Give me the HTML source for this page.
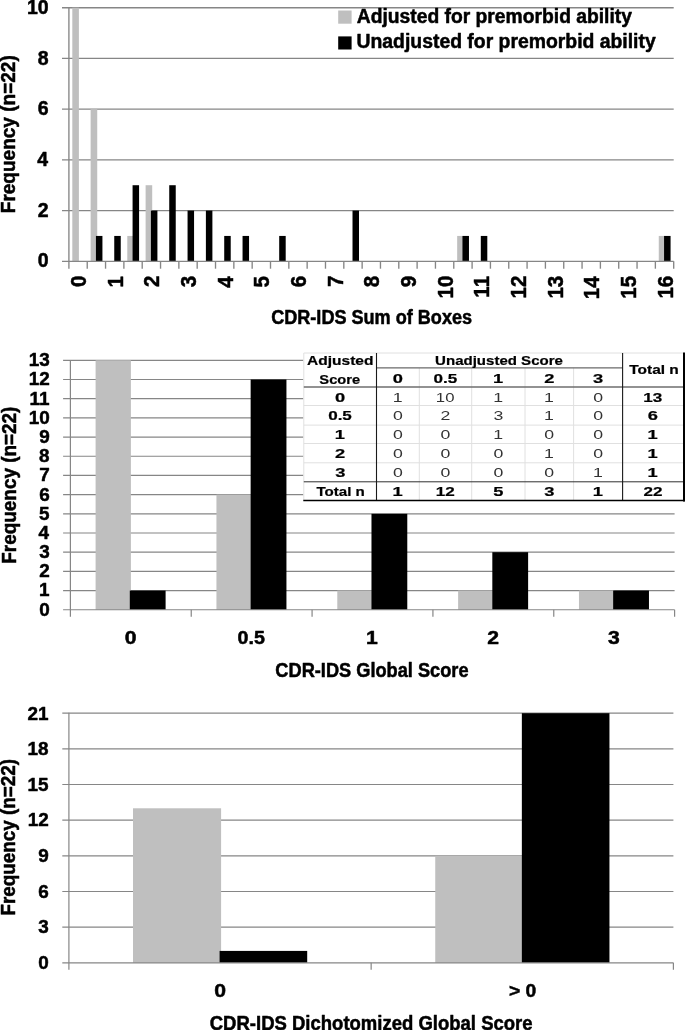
<!DOCTYPE html>
<html lang="en">
<head>
<meta charset="utf-8">
<title>CDR-IDS frequency charts</title>
<style>
html,body{margin:0;padding:0;background:#fff;}
body{width:685px;height:1030px;overflow:hidden;}
svg{display:block;}
svg text{font-family:"Liberation Sans",Arial,Helvetica,sans-serif;}
</style>
</head>
<body>
<svg width="685" height="1030" viewBox="0 0 685 1030">
<rect x="0" y="0" width="685" height="1030" fill="#fff"/>
<g id="chart1">
<line x1="62.00" y1="210.58" x2="673.70" y2="210.58" stroke="#868686" stroke-width="1.35"/>
<line x1="62.00" y1="159.86" x2="673.70" y2="159.86" stroke="#868686" stroke-width="1.35"/>
<line x1="62.00" y1="109.14" x2="673.70" y2="109.14" stroke="#868686" stroke-width="1.35"/>
<line x1="62.00" y1="58.42" x2="673.70" y2="58.42" stroke="#868686" stroke-width="1.35"/>
<line x1="62.00" y1="7.70" x2="673.70" y2="7.70" stroke="#868686" stroke-width="1.35"/>
<rect x="72.30" y="7.70" width="6.60" height="253.60" fill="#bfbfbf"/>
<rect x="90.63" y="109.14" width="6.60" height="152.16" fill="#bfbfbf"/>
<rect x="95.93" y="235.94" width="6.50" height="25.36" fill="#000"/>
<rect x="114.25" y="235.94" width="6.50" height="25.36" fill="#000"/>
<rect x="127.28" y="235.94" width="6.60" height="25.36" fill="#bfbfbf"/>
<rect x="132.58" y="185.22" width="6.50" height="76.08" fill="#000"/>
<rect x="145.61" y="185.22" width="6.60" height="76.08" fill="#bfbfbf"/>
<rect x="150.91" y="210.58" width="6.50" height="50.72" fill="#000"/>
<rect x="169.24" y="185.22" width="6.50" height="76.08" fill="#000"/>
<rect x="187.56" y="210.58" width="6.50" height="50.72" fill="#000"/>
<rect x="205.89" y="210.58" width="6.50" height="50.72" fill="#000"/>
<rect x="224.22" y="235.94" width="6.50" height="25.36" fill="#000"/>
<rect x="242.55" y="235.94" width="6.50" height="25.36" fill="#000"/>
<rect x="279.20" y="235.94" width="6.50" height="25.36" fill="#000"/>
<rect x="352.51" y="210.58" width="6.50" height="50.72" fill="#000"/>
<rect x="457.17" y="235.94" width="6.60" height="25.36" fill="#bfbfbf"/>
<rect x="462.47" y="235.94" width="6.50" height="25.36" fill="#000"/>
<rect x="480.80" y="235.94" width="6.50" height="25.36" fill="#000"/>
<rect x="658.77" y="235.94" width="6.60" height="25.36" fill="#bfbfbf"/>
<rect x="664.07" y="235.94" width="6.50" height="25.36" fill="#000"/>
<line x1="62.00" y1="261.30" x2="673.70" y2="261.30" stroke="#868686" stroke-width="1.35"/>
<line x1="68.90" y1="7.10" x2="68.90" y2="268.70" stroke="#868686" stroke-width="1.35"/>
<line x1="87.23" y1="261.30" x2="87.23" y2="268.70" stroke="#868686" stroke-width="1.35"/>
<line x1="105.55" y1="261.30" x2="105.55" y2="268.70" stroke="#868686" stroke-width="1.35"/>
<line x1="123.88" y1="261.30" x2="123.88" y2="268.70" stroke="#868686" stroke-width="1.35"/>
<line x1="142.21" y1="261.30" x2="142.21" y2="268.70" stroke="#868686" stroke-width="1.35"/>
<line x1="160.54" y1="261.30" x2="160.54" y2="268.70" stroke="#868686" stroke-width="1.35"/>
<line x1="178.86" y1="261.30" x2="178.86" y2="268.70" stroke="#868686" stroke-width="1.35"/>
<line x1="197.19" y1="261.30" x2="197.19" y2="268.70" stroke="#868686" stroke-width="1.35"/>
<line x1="215.52" y1="261.30" x2="215.52" y2="268.70" stroke="#868686" stroke-width="1.35"/>
<line x1="233.85" y1="261.30" x2="233.85" y2="268.70" stroke="#868686" stroke-width="1.35"/>
<line x1="252.17" y1="261.30" x2="252.17" y2="268.70" stroke="#868686" stroke-width="1.35"/>
<line x1="270.50" y1="261.30" x2="270.50" y2="268.70" stroke="#868686" stroke-width="1.35"/>
<line x1="288.83" y1="261.30" x2="288.83" y2="268.70" stroke="#868686" stroke-width="1.35"/>
<line x1="307.15" y1="261.30" x2="307.15" y2="268.70" stroke="#868686" stroke-width="1.35"/>
<line x1="325.48" y1="261.30" x2="325.48" y2="268.70" stroke="#868686" stroke-width="1.35"/>
<line x1="343.81" y1="261.30" x2="343.81" y2="268.70" stroke="#868686" stroke-width="1.35"/>
<line x1="362.14" y1="261.30" x2="362.14" y2="268.70" stroke="#868686" stroke-width="1.35"/>
<line x1="380.46" y1="261.30" x2="380.46" y2="268.70" stroke="#868686" stroke-width="1.35"/>
<line x1="398.79" y1="261.30" x2="398.79" y2="268.70" stroke="#868686" stroke-width="1.35"/>
<line x1="417.12" y1="261.30" x2="417.12" y2="268.70" stroke="#868686" stroke-width="1.35"/>
<line x1="435.45" y1="261.30" x2="435.45" y2="268.70" stroke="#868686" stroke-width="1.35"/>
<line x1="453.77" y1="261.30" x2="453.77" y2="268.70" stroke="#868686" stroke-width="1.35"/>
<line x1="472.10" y1="261.30" x2="472.10" y2="268.70" stroke="#868686" stroke-width="1.35"/>
<line x1="490.43" y1="261.30" x2="490.43" y2="268.70" stroke="#868686" stroke-width="1.35"/>
<line x1="508.75" y1="261.30" x2="508.75" y2="268.70" stroke="#868686" stroke-width="1.35"/>
<line x1="527.08" y1="261.30" x2="527.08" y2="268.70" stroke="#868686" stroke-width="1.35"/>
<line x1="545.41" y1="261.30" x2="545.41" y2="268.70" stroke="#868686" stroke-width="1.35"/>
<line x1="563.74" y1="261.30" x2="563.74" y2="268.70" stroke="#868686" stroke-width="1.35"/>
<line x1="582.06" y1="261.30" x2="582.06" y2="268.70" stroke="#868686" stroke-width="1.35"/>
<line x1="600.39" y1="261.30" x2="600.39" y2="268.70" stroke="#868686" stroke-width="1.35"/>
<line x1="618.72" y1="261.30" x2="618.72" y2="268.70" stroke="#868686" stroke-width="1.35"/>
<line x1="637.05" y1="261.30" x2="637.05" y2="268.70" stroke="#868686" stroke-width="1.35"/>
<line x1="655.37" y1="261.30" x2="655.37" y2="268.70" stroke="#868686" stroke-width="1.35"/>
<line x1="673.70" y1="261.30" x2="673.70" y2="268.70" stroke="#868686" stroke-width="1.35"/>
<text x="37.86" y="267.40" font-size="19.5" font-weight="bold" fill="#000" stroke="#000" stroke-width="0.5" stroke-linejoin="round" textLength="10.85" lengthAdjust="spacingAndGlyphs">0</text>
<text x="37.86" y="216.68" font-size="19.5" font-weight="bold" fill="#000" stroke="#000" stroke-width="0.5" stroke-linejoin="round" textLength="10.85" lengthAdjust="spacingAndGlyphs">2</text>
<text x="37.18" y="165.96" font-size="19.5" font-weight="bold" fill="#000" stroke="#000" stroke-width="0.5" stroke-linejoin="round" textLength="10.85" lengthAdjust="spacingAndGlyphs">4</text>
<text x="37.76" y="115.24" font-size="19.5" font-weight="bold" fill="#000" stroke="#000" stroke-width="0.5" stroke-linejoin="round" textLength="10.85" lengthAdjust="spacingAndGlyphs">6</text>
<text x="37.66" y="64.52" font-size="19.5" font-weight="bold" fill="#000" stroke="#000" stroke-width="0.5" stroke-linejoin="round" textLength="10.85" lengthAdjust="spacingAndGlyphs">8</text>
<text x="27.03" y="13.80" font-size="19.5" font-weight="bold" fill="#000" stroke="#000" stroke-width="0.5" stroke-linejoin="round" textLength="21.69" lengthAdjust="spacingAndGlyphs">10</text>
<text transform="translate(86.06,286.27) rotate(-90)" x="-0.82" y="0" font-size="21.2" font-weight="bold" stroke="#000" stroke-width="0.5" stroke-linejoin="round" textLength="11.44" lengthAdjust="spacingAndGlyphs">0</text>
<text transform="translate(122.72,286.17) rotate(-90)" x="-1.23" y="0" font-size="21.2" font-weight="bold" stroke="#000" stroke-width="0.5" stroke-linejoin="round" textLength="11.44" lengthAdjust="spacingAndGlyphs">1</text>
<text transform="translate(159.37,286.37) rotate(-90)" x="-0.72" y="0" font-size="21.2" font-weight="bold" stroke="#000" stroke-width="0.5" stroke-linejoin="round" textLength="11.44" lengthAdjust="spacingAndGlyphs">2</text>
<text transform="translate(196.03,286.68) rotate(-90)" x="-0.51" y="0" font-size="21.2" font-weight="bold" stroke="#000" stroke-width="0.5" stroke-linejoin="round" textLength="11.44" lengthAdjust="spacingAndGlyphs">3</text>
<text transform="translate(232.68,287.50) rotate(-90)" x="-0.31" y="0" font-size="21.2" font-weight="bold" stroke="#000" stroke-width="0.5" stroke-linejoin="round" textLength="11.44" lengthAdjust="spacingAndGlyphs">4</text>
<text transform="translate(269.34,286.78) rotate(-90)" x="-0.62" y="0" font-size="21.2" font-weight="bold" stroke="#000" stroke-width="0.5" stroke-linejoin="round" textLength="11.44" lengthAdjust="spacingAndGlyphs">5</text>
<text transform="translate(305.99,286.47) rotate(-90)" x="-0.72" y="0" font-size="21.2" font-weight="bold" stroke="#000" stroke-width="0.5" stroke-linejoin="round" textLength="11.44" lengthAdjust="spacingAndGlyphs">6</text>
<text transform="translate(342.65,286.27) rotate(-90)" x="-0.82" y="0" font-size="21.2" font-weight="bold" stroke="#000" stroke-width="0.5" stroke-linejoin="round" textLength="11.44" lengthAdjust="spacingAndGlyphs">7</text>
<text transform="translate(379.30,286.68) rotate(-90)" x="-0.62" y="0" font-size="21.2" font-weight="bold" stroke="#000" stroke-width="0.5" stroke-linejoin="round" textLength="11.44" lengthAdjust="spacingAndGlyphs">8</text>
<text transform="translate(415.95,286.47) rotate(-90)" x="-0.72" y="0" font-size="21.2" font-weight="bold" stroke="#000" stroke-width="0.5" stroke-linejoin="round" textLength="11.44" lengthAdjust="spacingAndGlyphs">9</text>
<text transform="translate(452.61,297.27) rotate(-90)" x="-1.23" y="0" font-size="21.2" font-weight="bold" stroke="#000" stroke-width="0.5" stroke-linejoin="round" textLength="22.87" lengthAdjust="spacingAndGlyphs">10</text>
<text transform="translate(489.26,296.45) rotate(-90)" x="-1.23" y="0" font-size="21.2" font-weight="bold" stroke="#000" stroke-width="0.5" stroke-linejoin="round" textLength="21.74" lengthAdjust="spacingAndGlyphs">11</text>
<text transform="translate(525.92,297.27) rotate(-90)" x="-1.23" y="0" font-size="21.2" font-weight="bold" stroke="#000" stroke-width="0.5" stroke-linejoin="round" textLength="22.87" lengthAdjust="spacingAndGlyphs">12</text>
<text transform="translate(562.57,297.37) rotate(-90)" x="-1.23" y="0" font-size="21.2" font-weight="bold" stroke="#000" stroke-width="0.5" stroke-linejoin="round" textLength="22.87" lengthAdjust="spacingAndGlyphs">13</text>
<text transform="translate(599.23,297.99) rotate(-90)" x="-1.23" y="0" font-size="21.2" font-weight="bold" stroke="#000" stroke-width="0.5" stroke-linejoin="round" textLength="22.87" lengthAdjust="spacingAndGlyphs">14</text>
<text transform="translate(635.88,297.58) rotate(-90)" x="-1.23" y="0" font-size="21.2" font-weight="bold" stroke="#000" stroke-width="0.5" stroke-linejoin="round" textLength="22.87" lengthAdjust="spacingAndGlyphs">15</text>
<text transform="translate(672.54,297.37) rotate(-90)" x="-1.23" y="0" font-size="21.2" font-weight="bold" stroke="#000" stroke-width="0.5" stroke-linejoin="round" textLength="22.87" lengthAdjust="spacingAndGlyphs">16</text>
<text transform="translate(15.10,212.00) rotate(-90)" x="-1.24" y="0" font-size="19.4" font-weight="bold" stroke="#000" stroke-width="0.5" stroke-linejoin="round" textLength="157.96" lengthAdjust="spacingAndGlyphs">Frequency (n=22)</text>
<text x="271.18" y="323.90" font-size="19.4" font-weight="bold" fill="#000" stroke="#000" stroke-width="0.5" stroke-linejoin="round" textLength="200.89" lengthAdjust="spacingAndGlyphs">CDR-IDS Sum of Boxes</text>
<rect x="338.20" y="10.50" width="13.40" height="13.20" fill="#bfbfbf"/>
<rect x="338.20" y="36.40" width="13.40" height="13.10" fill="#000"/>
<text x="356.72" y="22.80" font-size="19.4" font-weight="bold" fill="#000" stroke="#000" stroke-width="0.5" stroke-linejoin="round" textLength="275.26" lengthAdjust="spacingAndGlyphs">Adjusted for premorbid ability</text>
<text x="356.54" y="47.80" font-size="19.4" font-weight="bold" fill="#000" stroke="#000" stroke-width="0.5" stroke-linejoin="round" textLength="299.18" lengthAdjust="spacingAndGlyphs">Unadjusted for premorbid ability</text>
</g>
<g id="chart2">
<line x1="63.10" y1="590.56" x2="674.60" y2="590.56" stroke="#868686" stroke-width="1.2"/>
<line x1="63.10" y1="571.37" x2="674.60" y2="571.37" stroke="#868686" stroke-width="1.2"/>
<line x1="63.10" y1="552.18" x2="674.60" y2="552.18" stroke="#868686" stroke-width="1.2"/>
<line x1="63.10" y1="533.00" x2="674.60" y2="533.00" stroke="#868686" stroke-width="1.2"/>
<line x1="63.10" y1="513.81" x2="674.60" y2="513.81" stroke="#868686" stroke-width="1.2"/>
<line x1="63.10" y1="494.62" x2="674.60" y2="494.62" stroke="#868686" stroke-width="1.2"/>
<line x1="63.10" y1="475.43" x2="674.60" y2="475.43" stroke="#868686" stroke-width="1.2"/>
<line x1="63.10" y1="456.24" x2="674.60" y2="456.24" stroke="#868686" stroke-width="1.2"/>
<line x1="63.10" y1="437.05" x2="674.60" y2="437.05" stroke="#868686" stroke-width="1.2"/>
<line x1="63.10" y1="417.87" x2="674.60" y2="417.87" stroke="#868686" stroke-width="1.2"/>
<line x1="63.10" y1="398.68" x2="674.60" y2="398.68" stroke="#868686" stroke-width="1.2"/>
<line x1="63.10" y1="379.49" x2="674.60" y2="379.49" stroke="#868686" stroke-width="1.2"/>
<line x1="63.10" y1="360.30" x2="674.60" y2="360.30" stroke="#868686" stroke-width="1.2"/>
<rect x="95.60" y="360.30" width="35.30" height="249.45" fill="#bfbfbf"/>
<rect x="129.80" y="590.56" width="35.80" height="19.19" fill="#000"/>
<rect x="216.44" y="494.62" width="35.30" height="115.13" fill="#bfbfbf"/>
<rect x="250.64" y="379.49" width="35.80" height="230.26" fill="#000"/>
<rect x="337.28" y="590.56" width="35.30" height="19.19" fill="#bfbfbf"/>
<rect x="371.48" y="513.81" width="35.80" height="95.94" fill="#000"/>
<rect x="458.12" y="590.56" width="35.30" height="19.19" fill="#bfbfbf"/>
<rect x="492.32" y="552.18" width="35.80" height="57.57" fill="#000"/>
<rect x="578.96" y="590.56" width="35.30" height="19.19" fill="#bfbfbf"/>
<rect x="613.16" y="590.56" width="35.80" height="19.19" fill="#000"/>
<line x1="63.10" y1="609.75" x2="674.60" y2="609.75" stroke="#868686" stroke-width="1.2"/>
<line x1="70.40" y1="359.90" x2="70.40" y2="616.65" stroke="#868686" stroke-width="1.2"/>
<line x1="191.24" y1="609.75" x2="191.24" y2="616.65" stroke="#868686" stroke-width="1.2"/>
<line x1="312.08" y1="609.75" x2="312.08" y2="616.65" stroke="#868686" stroke-width="1.2"/>
<line x1="432.92" y1="609.75" x2="432.92" y2="616.65" stroke="#868686" stroke-width="1.2"/>
<line x1="553.76" y1="609.75" x2="553.76" y2="616.65" stroke="#868686" stroke-width="1.2"/>
<line x1="674.60" y1="609.75" x2="674.60" y2="616.65" stroke="#868686" stroke-width="1.2"/>
<text x="39.27" y="615.65" font-size="18.9" font-weight="bold" fill="#000" stroke="#000" stroke-width="0.5" stroke-linejoin="round" textLength="10.51" lengthAdjust="spacingAndGlyphs">0</text>
<text x="38.98" y="596.46" font-size="18.9" font-weight="bold" fill="#000" stroke="#000" stroke-width="0.5" stroke-linejoin="round" textLength="10.51" lengthAdjust="spacingAndGlyphs">1</text>
<text x="39.27" y="577.27" font-size="18.9" font-weight="bold" fill="#000" stroke="#000" stroke-width="0.5" stroke-linejoin="round" textLength="10.51" lengthAdjust="spacingAndGlyphs">2</text>
<text x="39.17" y="558.08" font-size="18.9" font-weight="bold" fill="#000" stroke="#000" stroke-width="0.5" stroke-linejoin="round" textLength="10.51" lengthAdjust="spacingAndGlyphs">3</text>
<text x="38.61" y="538.90" font-size="18.9" font-weight="bold" fill="#000" stroke="#000" stroke-width="0.5" stroke-linejoin="round" textLength="10.51" lengthAdjust="spacingAndGlyphs">4</text>
<text x="38.98" y="519.71" font-size="18.9" font-weight="bold" fill="#000" stroke="#000" stroke-width="0.5" stroke-linejoin="round" textLength="10.51" lengthAdjust="spacingAndGlyphs">5</text>
<text x="39.17" y="500.52" font-size="18.9" font-weight="bold" fill="#000" stroke="#000" stroke-width="0.5" stroke-linejoin="round" textLength="10.51" lengthAdjust="spacingAndGlyphs">6</text>
<text x="39.27" y="481.33" font-size="18.9" font-weight="bold" fill="#000" stroke="#000" stroke-width="0.5" stroke-linejoin="round" textLength="10.51" lengthAdjust="spacingAndGlyphs">7</text>
<text x="39.08" y="462.14" font-size="18.9" font-weight="bold" fill="#000" stroke="#000" stroke-width="0.5" stroke-linejoin="round" textLength="10.51" lengthAdjust="spacingAndGlyphs">8</text>
<text x="39.17" y="442.95" font-size="18.9" font-weight="bold" fill="#000" stroke="#000" stroke-width="0.5" stroke-linejoin="round" textLength="10.51" lengthAdjust="spacingAndGlyphs">9</text>
<text x="28.78" y="423.77" font-size="18.9" font-weight="bold" fill="#000" stroke="#000" stroke-width="0.5" stroke-linejoin="round" textLength="21.02" lengthAdjust="spacingAndGlyphs">10</text>
<text x="29.53" y="404.58" font-size="18.9" font-weight="bold" fill="#000" stroke="#000" stroke-width="0.5" stroke-linejoin="round" textLength="19.98" lengthAdjust="spacingAndGlyphs">11</text>
<text x="28.78" y="385.39" font-size="18.9" font-weight="bold" fill="#000" stroke="#000" stroke-width="0.5" stroke-linejoin="round" textLength="21.02" lengthAdjust="spacingAndGlyphs">12</text>
<text x="28.68" y="366.20" font-size="18.9" font-weight="bold" fill="#000" stroke="#000" stroke-width="0.5" stroke-linejoin="round" textLength="21.02" lengthAdjust="spacingAndGlyphs">13</text>
<text x="124.65" y="644.00" font-size="18.9" font-weight="bold" fill="#000" stroke="#000" stroke-width="0.5" stroke-linejoin="round" textLength="11.77" lengthAdjust="spacingAndGlyphs">0</text>
<text x="237.55" y="644.00" font-size="18.9" font-weight="bold" fill="#000" stroke="#000" stroke-width="0.5" stroke-linejoin="round" textLength="27.32" lengthAdjust="spacingAndGlyphs">0.5</text>
<text x="365.96" y="644.00" font-size="18.9" font-weight="bold" fill="#000" stroke="#000" stroke-width="0.5" stroke-linejoin="round" textLength="11.77" lengthAdjust="spacingAndGlyphs">1</text>
<text x="487.22" y="644.00" font-size="18.9" font-weight="bold" fill="#000" stroke="#000" stroke-width="0.5" stroke-linejoin="round" textLength="11.77" lengthAdjust="spacingAndGlyphs">2</text>
<text x="608.11" y="644.00" font-size="18.9" font-weight="bold" fill="#000" stroke="#000" stroke-width="0.5" stroke-linejoin="round" textLength="11.77" lengthAdjust="spacingAndGlyphs">3</text>
<text transform="translate(16.00,562.50) rotate(-90)" x="-1.23" y="0" font-size="19.4" font-weight="bold" stroke="#000" stroke-width="0.5" stroke-linejoin="round" textLength="157.14" lengthAdjust="spacingAndGlyphs">Frequency (n=22)</text>
<text x="275.37" y="676.90" font-size="19.4" font-weight="bold" fill="#000" stroke="#000" stroke-width="0.5" stroke-linejoin="round" textLength="193.23" lengthAdjust="spacingAndGlyphs">CDR-IDS Global Score</text>
</g>
<g id="table">
<rect x="303.30" y="352.50" width="381.70" height="149.10" fill="#fff"/>
<line x1="303.80" y1="405.50" x2="683.20" y2="405.50" stroke="#e0e0e0" stroke-width="1"/>
<line x1="303.80" y1="425.10" x2="683.20" y2="425.10" stroke="#e0e0e0" stroke-width="1"/>
<line x1="303.80" y1="443.50" x2="683.20" y2="443.50" stroke="#e0e0e0" stroke-width="1"/>
<line x1="303.80" y1="462.80" x2="683.20" y2="462.80" stroke="#e0e0e0" stroke-width="1"/>
<line x1="419.30" y1="367.90" x2="419.30" y2="500.60" stroke="#e0e0e0" stroke-width="1"/>
<line x1="471.70" y1="367.90" x2="471.70" y2="500.60" stroke="#e0e0e0" stroke-width="1"/>
<line x1="525.00" y1="367.90" x2="525.00" y2="500.60" stroke="#e0e0e0" stroke-width="1"/>
<line x1="573.60" y1="367.90" x2="573.60" y2="500.60" stroke="#e0e0e0" stroke-width="1"/>
<line x1="303.80" y1="353.00" x2="683.20" y2="353.00" stroke="#e0e0e0" stroke-width="1"/>
<line x1="303.80" y1="353.00" x2="303.80" y2="500.60" stroke="#e0e0e0" stroke-width="1"/>
<line x1="376.50" y1="367.90" x2="622.60" y2="367.90" stroke="#6a6a6a" stroke-width="1.1"/>
<line x1="303.80" y1="387.00" x2="683.20" y2="387.00" stroke="#6e6e6e" stroke-width="1.4"/>
<line x1="303.80" y1="481.80" x2="683.20" y2="481.80" stroke="#303030" stroke-width="1.0"/>
<line x1="376.50" y1="353.00" x2="376.50" y2="500.60" stroke="#1a1a1a" stroke-width="1.1"/>
<line x1="622.60" y1="353.00" x2="622.60" y2="500.60" stroke="#1a1a1a" stroke-width="1.1"/>
<line x1="303.30" y1="500.60" x2="685.00" y2="500.60" stroke="#000" stroke-width="1.5"/>
<line x1="684.00" y1="352.50" x2="684.00" y2="501.45" stroke="#000" stroke-width="2.0"/>
<text x="307.01" y="364.70" font-size="12.2" font-weight="bold" fill="#000" stroke="#000" stroke-width="0.2" stroke-linejoin="round" textLength="66.44" lengthAdjust="spacingAndGlyphs">Adjusted</text>
<text x="319.36" y="384.00" font-size="12.2" font-weight="bold" fill="#000" stroke="#000" stroke-width="0.2" stroke-linejoin="round" textLength="40.77" lengthAdjust="spacingAndGlyphs">Score</text>
<text x="435.10" y="364.90" font-size="12.2" font-weight="bold" fill="#000" stroke="#000" stroke-width="0.2" stroke-linejoin="round" textLength="127.79" lengthAdjust="spacingAndGlyphs">Unadjusted Score</text>
<text x="629.25" y="374.20" font-size="12.2" font-weight="bold" fill="#000" stroke="#000" stroke-width="0.2" stroke-linejoin="round" textLength="49.53" lengthAdjust="spacingAndGlyphs">Total n</text>
<text x="392.82" y="383.20" font-size="12.2" font-weight="bold" fill="#000" stroke="#000" stroke-width="0.2" stroke-linejoin="round" textLength="10.18" lengthAdjust="spacingAndGlyphs">0</text>
<text x="433.50" y="383.20" font-size="12.2" font-weight="bold" fill="#000" stroke="#000" stroke-width="0.2" stroke-linejoin="round" textLength="23.74" lengthAdjust="spacingAndGlyphs">0.5</text>
<text x="492.95" y="383.20" font-size="12.2" font-weight="bold" fill="#000" stroke="#000" stroke-width="0.2" stroke-linejoin="round" textLength="10.18" lengthAdjust="spacingAndGlyphs">1</text>
<text x="544.27" y="383.20" font-size="12.2" font-weight="bold" fill="#000" stroke="#000" stroke-width="0.2" stroke-linejoin="round" textLength="10.18" lengthAdjust="spacingAndGlyphs">2</text>
<text x="593.11" y="383.20" font-size="12.2" font-weight="bold" fill="#000" stroke="#000" stroke-width="0.2" stroke-linejoin="round" textLength="10.18" lengthAdjust="spacingAndGlyphs">3</text>
<text x="335.07" y="401.60" font-size="12.2" font-weight="bold" fill="#000" stroke="#000" stroke-width="0.2" stroke-linejoin="round" textLength="10.18" lengthAdjust="spacingAndGlyphs">0</text>
<text x="392.73" y="401.60" font-size="12.2" font-weight="normal" fill="#333" textLength="9.84" lengthAdjust="spacingAndGlyphs">1</text>
<text x="435.89" y="401.60" font-size="12.2" font-weight="normal" fill="#333" textLength="18.59" lengthAdjust="spacingAndGlyphs">10</text>
<text x="493.18" y="401.60" font-size="12.2" font-weight="normal" fill="#333" textLength="9.84" lengthAdjust="spacingAndGlyphs">1</text>
<text x="544.13" y="401.60" font-size="12.2" font-weight="normal" fill="#333" textLength="9.84" lengthAdjust="spacingAndGlyphs">1</text>
<text x="593.15" y="401.60" font-size="12.2" font-weight="normal" fill="#333" textLength="9.84" lengthAdjust="spacingAndGlyphs">0</text>
<text x="643.21" y="401.60" font-size="12.2" font-weight="bold" fill="#000" stroke="#000" stroke-width="0.2" stroke-linejoin="round" textLength="19.00" lengthAdjust="spacingAndGlyphs">13</text>
<text x="328.15" y="420.20" font-size="12.2" font-weight="bold" fill="#000" stroke="#000" stroke-width="0.2" stroke-linejoin="round" textLength="23.74" lengthAdjust="spacingAndGlyphs">0.5</text>
<text x="392.95" y="420.20" font-size="12.2" font-weight="normal" fill="#333" textLength="9.84" lengthAdjust="spacingAndGlyphs">0</text>
<text x="440.59" y="420.20" font-size="12.2" font-weight="normal" fill="#333" textLength="9.84" lengthAdjust="spacingAndGlyphs">2</text>
<text x="493.44" y="420.20" font-size="12.2" font-weight="normal" fill="#333" textLength="9.84" lengthAdjust="spacingAndGlyphs">3</text>
<text x="544.13" y="420.20" font-size="12.2" font-weight="normal" fill="#333" textLength="9.84" lengthAdjust="spacingAndGlyphs">1</text>
<text x="593.15" y="420.20" font-size="12.2" font-weight="normal" fill="#333" textLength="9.84" lengthAdjust="spacingAndGlyphs">0</text>
<text x="647.82" y="420.20" font-size="12.2" font-weight="bold" fill="#000" stroke="#000" stroke-width="0.2" stroke-linejoin="round" textLength="10.18" lengthAdjust="spacingAndGlyphs">6</text>
<text x="334.75" y="439.40" font-size="12.2" font-weight="bold" fill="#000" stroke="#000" stroke-width="0.2" stroke-linejoin="round" textLength="10.18" lengthAdjust="spacingAndGlyphs">1</text>
<text x="392.95" y="439.40" font-size="12.2" font-weight="normal" fill="#333" textLength="9.84" lengthAdjust="spacingAndGlyphs">0</text>
<text x="440.55" y="439.40" font-size="12.2" font-weight="normal" fill="#333" textLength="9.84" lengthAdjust="spacingAndGlyphs">0</text>
<text x="493.18" y="439.40" font-size="12.2" font-weight="normal" fill="#333" textLength="9.84" lengthAdjust="spacingAndGlyphs">1</text>
<text x="544.35" y="439.40" font-size="12.2" font-weight="normal" fill="#333" textLength="9.84" lengthAdjust="spacingAndGlyphs">0</text>
<text x="593.15" y="439.40" font-size="12.2" font-weight="normal" fill="#333" textLength="9.84" lengthAdjust="spacingAndGlyphs">0</text>
<text x="647.50" y="439.40" font-size="12.2" font-weight="bold" fill="#000" stroke="#000" stroke-width="0.2" stroke-linejoin="round" textLength="10.18" lengthAdjust="spacingAndGlyphs">1</text>
<text x="335.12" y="458.30" font-size="12.2" font-weight="bold" fill="#000" stroke="#000" stroke-width="0.2" stroke-linejoin="round" textLength="10.18" lengthAdjust="spacingAndGlyphs">2</text>
<text x="392.95" y="458.30" font-size="12.2" font-weight="normal" fill="#333" textLength="9.84" lengthAdjust="spacingAndGlyphs">0</text>
<text x="440.55" y="458.30" font-size="12.2" font-weight="normal" fill="#333" textLength="9.84" lengthAdjust="spacingAndGlyphs">0</text>
<text x="493.40" y="458.30" font-size="12.2" font-weight="normal" fill="#333" textLength="9.84" lengthAdjust="spacingAndGlyphs">0</text>
<text x="544.13" y="458.30" font-size="12.2" font-weight="normal" fill="#333" textLength="9.84" lengthAdjust="spacingAndGlyphs">1</text>
<text x="593.15" y="458.30" font-size="12.2" font-weight="normal" fill="#333" textLength="9.84" lengthAdjust="spacingAndGlyphs">0</text>
<text x="647.50" y="458.30" font-size="12.2" font-weight="bold" fill="#000" stroke="#000" stroke-width="0.2" stroke-linejoin="round" textLength="10.18" lengthAdjust="spacingAndGlyphs">1</text>
<text x="335.16" y="477.00" font-size="12.2" font-weight="bold" fill="#000" stroke="#000" stroke-width="0.2" stroke-linejoin="round" textLength="10.18" lengthAdjust="spacingAndGlyphs">3</text>
<text x="392.95" y="477.00" font-size="12.2" font-weight="normal" fill="#333" textLength="9.84" lengthAdjust="spacingAndGlyphs">0</text>
<text x="440.55" y="477.00" font-size="12.2" font-weight="normal" fill="#333" textLength="9.84" lengthAdjust="spacingAndGlyphs">0</text>
<text x="493.40" y="477.00" font-size="12.2" font-weight="normal" fill="#333" textLength="9.84" lengthAdjust="spacingAndGlyphs">0</text>
<text x="544.35" y="477.00" font-size="12.2" font-weight="normal" fill="#333" textLength="9.84" lengthAdjust="spacingAndGlyphs">0</text>
<text x="592.93" y="477.00" font-size="12.2" font-weight="normal" fill="#333" textLength="9.84" lengthAdjust="spacingAndGlyphs">1</text>
<text x="647.50" y="477.00" font-size="12.2" font-weight="bold" fill="#000" stroke="#000" stroke-width="0.2" stroke-linejoin="round" textLength="10.18" lengthAdjust="spacingAndGlyphs">1</text>
<text x="316.45" y="496.30" font-size="12.2" font-weight="bold" fill="#000" stroke="#000" stroke-width="0.2" stroke-linejoin="round" textLength="48.41" lengthAdjust="spacingAndGlyphs">Total n</text>
<text x="392.50" y="496.30" font-size="12.2" font-weight="bold" fill="#000" stroke="#000" stroke-width="0.2" stroke-linejoin="round" textLength="10.18" lengthAdjust="spacingAndGlyphs">1</text>
<text x="435.85" y="496.30" font-size="12.2" font-weight="bold" fill="#000" stroke="#000" stroke-width="0.2" stroke-linejoin="round" textLength="19.00" lengthAdjust="spacingAndGlyphs">12</text>
<text x="493.23" y="496.30" font-size="12.2" font-weight="bold" fill="#000" stroke="#000" stroke-width="0.2" stroke-linejoin="round" textLength="10.18" lengthAdjust="spacingAndGlyphs">5</text>
<text x="544.31" y="496.30" font-size="12.2" font-weight="bold" fill="#000" stroke="#000" stroke-width="0.2" stroke-linejoin="round" textLength="10.18" lengthAdjust="spacingAndGlyphs">3</text>
<text x="592.70" y="496.30" font-size="12.2" font-weight="bold" fill="#000" stroke="#000" stroke-width="0.2" stroke-linejoin="round" textLength="10.18" lengthAdjust="spacingAndGlyphs">1</text>
<text x="643.46" y="496.30" font-size="12.2" font-weight="bold" fill="#000" stroke="#000" stroke-width="0.2" stroke-linejoin="round" textLength="19.00" lengthAdjust="spacingAndGlyphs">22</text>
</g>
<g id="chart3">
<line x1="62.30" y1="927.14" x2="673.40" y2="927.14" stroke="#868686" stroke-width="1.2"/>
<line x1="62.30" y1="891.49" x2="673.40" y2="891.49" stroke="#868686" stroke-width="1.2"/>
<line x1="62.30" y1="855.83" x2="673.40" y2="855.83" stroke="#868686" stroke-width="1.2"/>
<line x1="62.30" y1="820.17" x2="673.40" y2="820.17" stroke="#868686" stroke-width="1.2"/>
<line x1="62.30" y1="784.51" x2="673.40" y2="784.51" stroke="#868686" stroke-width="1.2"/>
<line x1="62.30" y1="748.86" x2="673.40" y2="748.86" stroke="#868686" stroke-width="1.2"/>
<line x1="62.30" y1="713.20" x2="673.40" y2="713.20" stroke="#868686" stroke-width="1.2"/>
<rect x="133.00" y="808.29" width="88.10" height="154.51" fill="#bfbfbf"/>
<rect x="219.60" y="950.91" width="87.60" height="11.89" fill="#000"/>
<rect x="435.25" y="855.83" width="88.10" height="106.97" fill="#bfbfbf"/>
<rect x="521.85" y="713.20" width="87.60" height="249.60" fill="#000"/>
<line x1="62.30" y1="962.80" x2="673.40" y2="962.80" stroke="#868686" stroke-width="1.2"/>
<line x1="68.90" y1="712.80" x2="68.90" y2="969.70" stroke="#868686" stroke-width="1.2"/>
<line x1="371.15" y1="962.80" x2="371.15" y2="969.70" stroke="#868686" stroke-width="1.2"/>
<line x1="673.40" y1="962.80" x2="673.40" y2="969.70" stroke="#868686" stroke-width="1.2"/>
<text x="38.27" y="969.10" font-size="18.9" font-weight="bold" fill="#000" stroke="#000" stroke-width="0.5" stroke-linejoin="round" textLength="10.51" lengthAdjust="spacingAndGlyphs">0</text>
<text x="38.17" y="933.44" font-size="18.9" font-weight="bold" fill="#000" stroke="#000" stroke-width="0.5" stroke-linejoin="round" textLength="10.51" lengthAdjust="spacingAndGlyphs">3</text>
<text x="38.17" y="897.79" font-size="18.9" font-weight="bold" fill="#000" stroke="#000" stroke-width="0.5" stroke-linejoin="round" textLength="10.51" lengthAdjust="spacingAndGlyphs">6</text>
<text x="38.17" y="862.13" font-size="18.9" font-weight="bold" fill="#000" stroke="#000" stroke-width="0.5" stroke-linejoin="round" textLength="10.51" lengthAdjust="spacingAndGlyphs">9</text>
<text x="27.78" y="826.47" font-size="18.9" font-weight="bold" fill="#000" stroke="#000" stroke-width="0.5" stroke-linejoin="round" textLength="21.02" lengthAdjust="spacingAndGlyphs">12</text>
<text x="27.49" y="790.81" font-size="18.9" font-weight="bold" fill="#000" stroke="#000" stroke-width="0.5" stroke-linejoin="round" textLength="21.02" lengthAdjust="spacingAndGlyphs">15</text>
<text x="27.59" y="755.16" font-size="18.9" font-weight="bold" fill="#000" stroke="#000" stroke-width="0.5" stroke-linejoin="round" textLength="21.02" lengthAdjust="spacingAndGlyphs">18</text>
<text x="27.49" y="719.50" font-size="18.9" font-weight="bold" fill="#000" stroke="#000" stroke-width="0.5" stroke-linejoin="round" textLength="21.02" lengthAdjust="spacingAndGlyphs">21</text>
<text x="214.28" y="997.40" font-size="18.9" font-weight="bold" fill="#000" stroke="#000" stroke-width="0.5" stroke-linejoin="round" textLength="11.77" lengthAdjust="spacingAndGlyphs">0</text>
<text x="508.93" y="997.40" font-size="18.9" font-weight="bold" fill="#000" stroke="#000" stroke-width="0.5" stroke-linejoin="round" textLength="27.40" lengthAdjust="spacingAndGlyphs">&gt; 0</text>
<text transform="translate(15.10,914.40) rotate(-90)" x="-1.23" y="0" font-size="19.4" font-weight="bold" stroke="#000" stroke-width="0.5" stroke-linejoin="round" textLength="156.64" lengthAdjust="spacingAndGlyphs">Frequency (n=22)</text>
<text x="209.76" y="1029.50" font-size="19.4" font-weight="bold" fill="#000" stroke="#000" stroke-width="0.5" stroke-linejoin="round" textLength="322.82" lengthAdjust="spacingAndGlyphs">CDR-IDS Dichotomized Global Score</text>
</g>
</svg>
</body>
</html>
